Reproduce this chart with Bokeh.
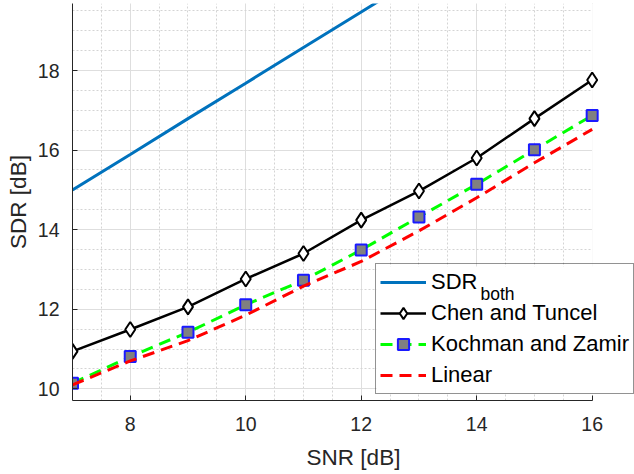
from bokeh.plotting import figure
from bokeh.models import FixedTicker, Legend, LegendItem, Label, Range1d, BoxAnnotation
from bokeh.embed import file_html
from bokeh.resources import INLINE

# ---- data ----
snr = [7, 8, 9, 10, 11, 12, 13, 14, 15, 16]
snr_both = [7, 8, 9, 10, 11, 12, 13]
sdr_both = [15.00, 15.89, 16.79, 17.68, 18.58, 19.47, 20.37]
chen_tuncel = [10.94, 11.49, 12.06, 12.76, 13.40, 14.24, 14.97, 15.80, 16.79, 17.76]
kochman_zamir = [10.14, 10.81, 11.42, 12.11, 12.73, 13.49, 14.32, 15.14, 16.01, 16.87]
linear = [10.10, 10.70, 11.21, 11.85, 12.58, 13.20, 13.97, 14.80, 15.68, 16.52]

x_ticks = [8, 10, 12, 14, 16]
y_ticks = [10, 12, 14, 16, 18]
x_minor = [7.0, 7.5, 8.0, 8.5, 9.0, 9.5, 10.0, 10.5, 11.0, 11.5, 12.0, 12.5,
           13.0, 13.5, 14.0, 14.5, 15.0, 15.5, 16.0]
y_minor = [9.5, 10.0, 10.5, 11.0, 11.5, 12.0, 12.5, 13.0, 13.5, 14.0, 14.5, 15.0,
           15.5, 16.0, 16.5, 17.0, 17.5, 18.0, 18.5, 19.0, 19.5]
x_limits = (7, 16)

FONT = "Liberation Sans"
AX = "#262626"

p = figure(width=634, height=474, output_backend="svg", toolbar_location=None,
           x_range=Range1d(7, 16.733), y_range=Range1d(9.706, 19.684),
           min_border_left=72, min_border_right=0, min_border_top=3,
           min_border_bottom=74)
p.outline_line_color = None
p.background_fill_color = "white"
p.border_fill_color = "white"

p.xaxis.ticker = FixedTicker(ticks=x_ticks, minor_ticks=x_minor)
p.yaxis.ticker = FixedTicker(ticks=y_ticks, minor_ticks=y_minor)
p.xaxis.bounds = x_limits

for ax in (p.xaxis, p.yaxis):
    ax.axis_line_color = AX
    ax.axis_line_width = 1
    ax.major_tick_line_color = AX
    ax.major_tick_in = 5
    ax.major_tick_out = 0
    ax.minor_tick_line_color = None
    ax.major_label_text_font = FONT
    ax.major_label_text_font_size = "19.5px"
    ax.major_label_text_color = AX
    ax.axis_label_text_font = FONT
    ax.axis_label_text_font_size = "22.5px"
    ax.axis_label_text_font_style = "normal"
    ax.axis_label_text_color = AX

p.xaxis.axis_label = "SNR [dB]"
p.yaxis.axis_label = "SDR [dB]"
p.xaxis.major_label_standoff = 12
p.xaxis.axis_label_standoff = 11
p.yaxis.major_label_standoff = 9
p.yaxis.axis_label_standoff = 4

for g in (p.xgrid, p.ygrid):
    g.grid_line_color = "#dedede"
    g.grid_line_width = 1
    g.minor_grid_line_color = "#d4d4d4"
    g.minor_grid_line_dash = "2 2"
    g.minor_grid_line_width = 1

# white cover for the grid beyond the last x limit (axes box ends at 16)
cover = BoxAnnotation(left=x_limits[1], fill_color="white", fill_alpha=1.0,
                      line_color=None, level="underlay")
p.add_layout(cover)

# ---- series ----
r_both = p.line(snr_both, sdr_both, line_color="#0072BD", line_width=3)
r_chen_l = p.line(snr, chen_tuncel, line_color="black", line_width=2.5)
r_chen_m = p.scatter(snr, chen_tuncel, marker="diamond", size=15,
                     fill_color="white", line_color="black", line_width=2)
r_koch_l = p.line(snr, kochman_zamir, line_color="#00FF00", line_width=3,
                  line_dash="12 7")
r_koch_m = p.scatter(snr, kochman_zamir, marker="square", size=11,
                     fill_color="#808080", line_color="#1a1aff", line_width=2)
r_lin = p.line(snr, linear, line_color="#FF0000", line_width=3, line_dash="12 7")

# opaque white panel behind the (transparent) legend box
legend_bg = BoxAnnotation(left=304, right=559, bottom=7, top=134,
                          left_units="screen", right_units="screen",
                          bottom_units="screen", top_units="screen",
                          fill_color="white", fill_alpha=1.0, line_color=None,
                          level="annotation")
p.add_layout(legend_bg)

sub = Label(x=408, y=107, x_units="screen", y_units="screen", text="both",
            text_font=FONT, text_font_size="17.5px", text_color="black",
            text_baseline="alphabetic", level="annotation")
p.add_layout(sub)

legend = Legend(items=[
    LegendItem(label="SDR", renderers=[r_both]),
    LegendItem(label="Chen and Tuncel", renderers=[r_chen_l, r_chen_m]),
    LegendItem(label="Kochman and Zamir", renderers=[r_koch_l, r_koch_m]),
    LegendItem(label="Linear", renderers=[r_lin]),
], location=(303, 6))
legend.label_text_font = FONT
legend.label_text_font_size = "22px"
legend.label_text_color = "black"
legend.glyph_width = 46
legend.glyph_height = 28
legend.label_height = 28
legend.label_standoff = 5
legend.spacing = 3
legend.padding = 4
legend.margin = 0
legend.border_line_color = AX
legend.border_line_width = 1
legend.background_fill_alpha = 0.0
p.add_layout(legend)

open("out.html", "w").write(file_html(p, INLINE))
